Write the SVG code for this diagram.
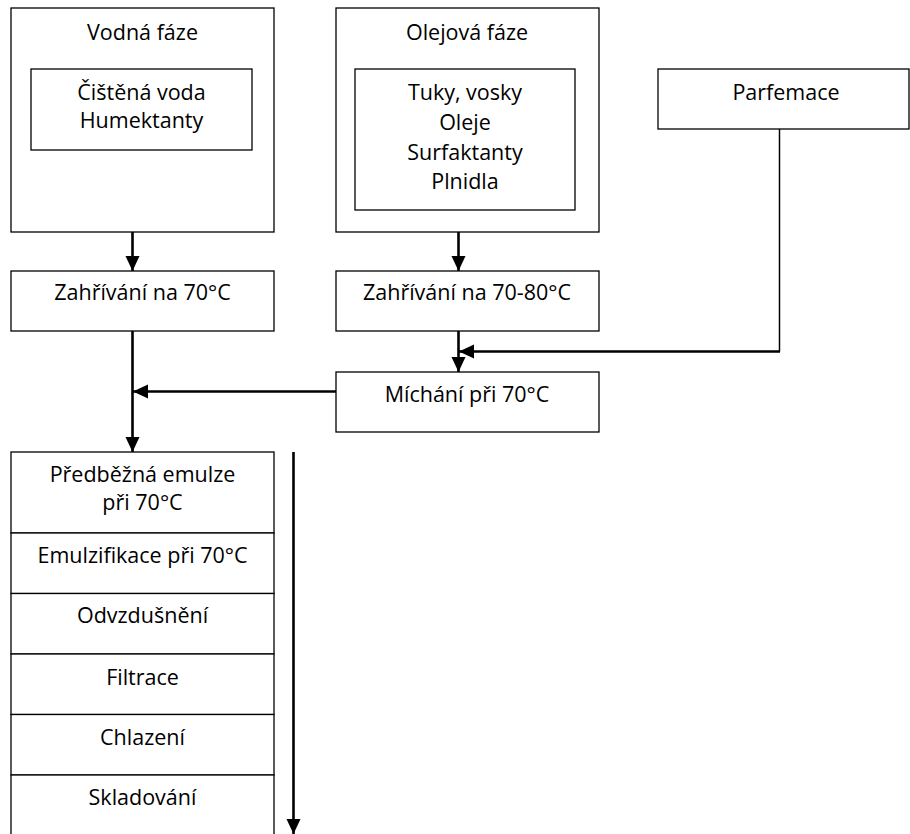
<svg xmlns="http://www.w3.org/2000/svg" width="910" height="834" viewBox="0 0 910 834">
<style>
.box{fill:#fff;stroke:#000;stroke-width:1.3}
.t{font-family:"Open Sans","Liberation Sans",sans-serif;font-size:21.5px;fill:#000;text-anchor:middle}
.c{fill:none;stroke:#000;stroke-width:2.6}
.thin{fill:none;stroke:#000;stroke-width:1.5}
</style>
<defs>
<marker id="ah" markerUnits="userSpaceOnUse" markerWidth="16" markerHeight="16" viewBox="0 0 16 16" refX="15" refY="8" orient="auto">
<path d="M0,1 L15,8 L0,15 Z" fill="#000"/>
</marker>
</defs>
<rect width="910" height="834" fill="#fff"/>
<g id="vodna">
<rect class="box" x="11" y="8" width="263" height="224"/>
<text class="t" x="142.5" y="40">Vodná fáze</text>
<rect class="box" x="31" y="69" width="221" height="81"/>
<text class="t" x="141.5" y="100">Čištěná voda</text>
<text class="t" x="141.5" y="128">Humektanty</text>
</g>
<g id="olejova">
<rect class="box" x="336" y="8" width="263" height="224"/>
<text class="t" x="467" y="40">Olejová fáze</text>
<rect class="box" x="355" y="69" width="220" height="141"/>
<text class="t" x="465" y="100">Tuky, vosky</text>
<text class="t" x="465" y="130">Oleje</text>
<text class="t" x="465" y="160">Surfaktanty</text>
<text class="t" x="465" y="189">Plnidla</text>
</g>
<g id="parfemace">
<rect class="box" x="658" y="69" width="251" height="60"/>
<text class="t" x="786" y="100">Parfemace</text>
</g>
<g id="zahrivani1">
<rect class="box" x="11" y="271" width="263" height="60"/>
<text class="t" x="142.5" y="300">Zahřívání na 70°C</text>
</g>
<g id="zahrivani2">
<rect class="box" x="336" y="271" width="263" height="60"/>
<text class="t" x="467" y="300">Zahřívání na 70-80°C</text>
</g>
<g id="michani">
<rect class="box" x="336" y="372" width="263" height="60"/>
<text class="t" x="467" y="402">Míchání při 70°C</text>
</g>
<g id="predbezna">
<rect class="box" x="11" y="452" width="263" height="81"/>
<text class="t" x="142.5" y="482">Předběžná emulze</text>
<text class="t" x="142.5" y="510">při 70°C</text>
</g>
<g id="emulzifikace">
<rect class="box" x="11" y="533" width="263" height="60.5"/>
<text class="t" x="142.5" y="563">Emulzifikace při 70°C</text>
</g>
<g id="odvzdusneni">
<rect class="box" x="11" y="593.5" width="263" height="60.5"/>
<text class="t" x="142.5" y="623">Odvzdušnění</text>
</g>
<g id="filtrace">
<rect class="box" x="11" y="654" width="263" height="60.5"/>
<text class="t" x="142.5" y="685">Filtrace</text>
</g>
<g id="chlazeni">
<rect class="box" x="11" y="714.5" width="263" height="60.5"/>
<text class="t" x="142.5" y="745">Chlazení</text>
</g>
<g id="skladovani">
<rect class="box" x="11" y="775" width="263" height="70"/>
<text class="t" x="142.5" y="805">Skladování</text>
</g>
<g id="connectors">
<line class="c" x1="132.5" y1="232" x2="132.5" y2="271" marker-end="url(#ah)"/>
<line class="c" x1="458.5" y1="232" x2="458.5" y2="271" marker-end="url(#ah)"/>
<line class="c" x1="458.5" y1="331" x2="458.5" y2="372" marker-end="url(#ah)"/>
<polyline class="thin" points="779.5,129 779.5,351.5"/>
<line class="c" x1="780" y1="351.5" x2="459" y2="351.5" marker-end="url(#ah)"/>
<line class="c" x1="336" y1="391.5" x2="133" y2="391.5" marker-end="url(#ah)"/>
<line class="c" x1="132.5" y1="331" x2="132.5" y2="452" marker-end="url(#ah)"/>
<line class="c" x1="293.5" y1="452" x2="293.5" y2="834" marker-end="url(#ah)"/>
</g>
</svg>
